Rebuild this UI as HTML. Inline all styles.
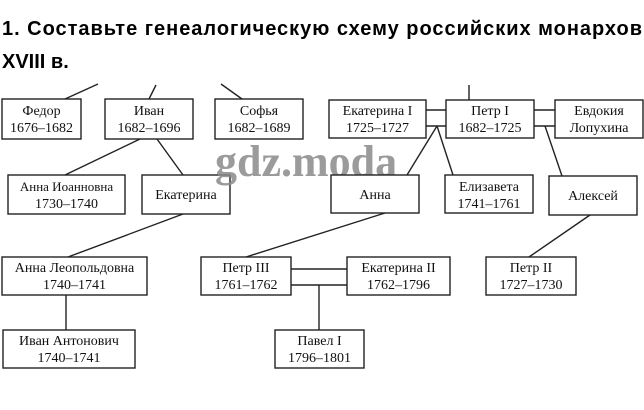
<!DOCTYPE html>
<html><head><meta charset="utf-8"><style>
html,body{margin:0;padding:0;background:#fff;}
svg{display:block;}
.t{font-family:"Liberation Sans","DejaVu Sans",sans-serif;font-weight:bold;font-size:20px;fill:#000;}
.b{font-family:"Liberation Serif","DejaVu Serif",serif;font-size:14px;fill:#111;text-anchor:middle;}
rect{fill:#fff;stroke:#222;stroke-width:1.4;}
line{stroke:#222;stroke-width:1.4;}
</style></head><body>
<svg width="644" height="410" xmlns="http://www.w3.org/2000/svg">
<text class="t" x="2" y="35" textLength="640" lengthAdjust="spacing">1. Составьте генеалогическую схему российских монархов</text>
<text class="t" x="2" y="68">XVIII в.</text>

<line x1="65" y1="99" x2="98" y2="84"/>
<line x1="149" y1="99" x2="156" y2="85"/>
<line x1="242" y1="99" x2="221" y2="84"/>
<line x1="469" y1="85" x2="469" y2="100"/>
<line x1="140" y1="139" x2="65" y2="175"/>
<line x1="157" y1="139" x2="183" y2="175"/>
<line x1="426" y1="110" x2="446" y2="110"/>
<line x1="426" y1="126" x2="446" y2="126"/>
<line x1="534" y1="110" x2="555" y2="110"/>
<line x1="534" y1="126" x2="555" y2="126"/>
<line x1="437" y1="126" x2="407" y2="175"/>
<line x1="437" y1="126" x2="453" y2="175"/>
<line x1="545" y1="126" x2="562" y2="176"/>
<line x1="183" y1="214" x2="68" y2="257"/>
<line x1="385" y1="213" x2="246" y2="257"/>
<line x1="590" y1="215" x2="529" y2="257"/>
<line x1="291" y1="269" x2="347" y2="269"/>
<line x1="291" y1="285" x2="347" y2="285"/>
<line x1="319" y1="285" x2="319" y2="330"/>
<line x1="66" y1="295" x2="66" y2="330"/>

<rect x="2" y="99" width="79" height="40"/>
<text class="b" x="41.5" y="115">Федор</text><text class="b" x="41.5" y="132">1676–1682</text>
<rect x="105" y="99" width="88" height="40"/>
<text class="b" x="149" y="115">Иван</text><text class="b" x="149" y="132">1682–1696</text>
<rect x="215" y="99" width="88" height="40"/>
<text class="b" x="259" y="115">Софья</text><text class="b" x="259" y="132">1682–1689</text>
<rect x="329" y="100" width="97" height="38"/>
<text class="b" x="377.5" y="115">Екатерина I</text><text class="b" x="377.5" y="132">1725–1727</text>
<rect x="446" y="100" width="88" height="38"/>
<text class="b" x="490" y="115">Петр I</text><text class="b" x="490" y="132">1682–1725</text>
<rect x="555" y="100" width="88" height="38"/>
<text class="b" x="599" y="115">Евдокия</text><text class="b" x="599" y="132">Лопухина</text>

<rect x="8" y="175" width="117" height="39"/>
<text class="b" x="66.5" y="191" style="font-size:13px">Анна Иоанновна</text><text class="b" x="66.5" y="208">1730–1740</text>
<rect x="142" y="175" width="88" height="39"/>
<text class="b" x="186" y="199">Екатерина</text>

<text x="215" y="176" font-family="Liberation Serif,serif" font-weight="bold" font-size="44" fill="#8a8a8a" opacity="0.85">gdz.moda</text>

<rect x="331" y="175" width="88" height="38"/>
<text class="b" x="375" y="199">Анна</text>
<rect x="445" y="175" width="88" height="38"/>
<text class="b" x="489" y="191">Елизавета</text><text class="b" x="489" y="208">1741–1761</text>
<rect x="549" y="176" width="88" height="39"/>
<text class="b" x="593" y="200">Алексей</text>

<rect x="2" y="257" width="145" height="38"/>
<text class="b" x="74.5" y="272">Анна Леопольдовна</text><text class="b" x="74.5" y="289">1740–1741</text>
<rect x="201" y="257" width="90" height="38"/>
<text class="b" x="246" y="272">Петр III</text><text class="b" x="246" y="289">1761–1762</text>
<rect x="347" y="257" width="103" height="38"/>
<text class="b" x="398.5" y="272">Екатерина II</text><text class="b" x="398.5" y="289">1762–1796</text>
<rect x="486" y="257" width="90" height="38"/>
<text class="b" x="531" y="272">Петр II</text><text class="b" x="531" y="289">1727–1730</text>

<rect x="3" y="330" width="132" height="38"/>
<text class="b" x="69" y="345">Иван Антонович</text><text class="b" x="69" y="362">1740–1741</text>
<rect x="275" y="330" width="89" height="38"/>
<text class="b" x="319.5" y="345">Павел I</text><text class="b" x="319.5" y="362">1796–1801</text>
</svg>
</body></html>
